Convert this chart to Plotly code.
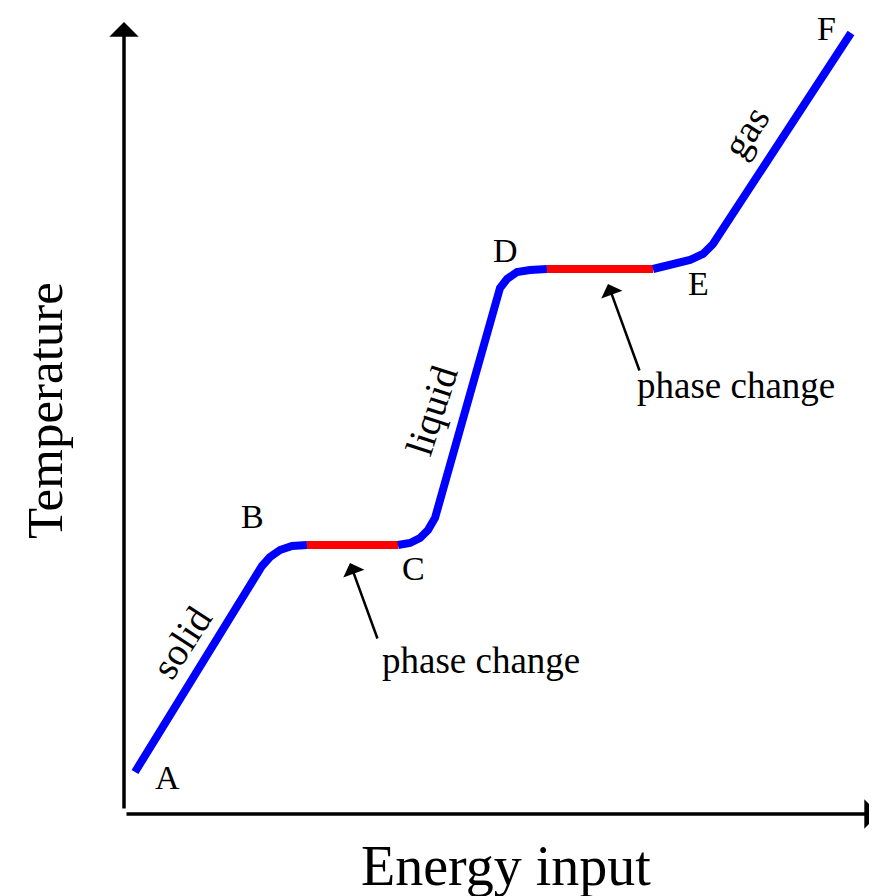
import plotly.graph_objects as go

# Heating curve data (arbitrary energy / temperature units)
solid_E = [10, 137, 145, 155, 167, 182]
solid_T = [40, 246, 255, 262, 266, 267]
melt_E = [182, 273]
melt_T = [267, 267]
liquid_E = [273, 285, 295, 303, 310, 315, 372, 375, 382, 392, 405, 422]
liquid_T = [267, 269, 274, 282, 294, 312, 512, 524, 533, 540, 542, 543]
boil_E = [422, 528]
boil_T = [543, 543]
gas_E = [528, 545, 565, 578, 588, 726]
gas_T = [543, 547, 552, 558, 568, 779]

point_labels = ["A", "B", "C", "D", "E", "F"]
phase_labels = ["solid", "liquid", "gas"]
change_label = "phase change"
x_title = "Energy input"
y_title = "Temperature"

BLUE = "#0000FF"
RED = "#FF0000"
FONT = "Liberation Serif, Times New Roman, serif"

fig = go.Figure()
for xs, ys, col in [(solid_E, solid_T, BLUE), (melt_E, melt_T, RED),
                    (liquid_E, liquid_T, BLUE), (boil_E, boil_T, RED),
                    (gas_E, gas_T, BLUE)]:
    fig.add_trace(go.Scatter(x=xs, y=ys, mode="lines",
                             line=dict(color=col, width=8),
                             hoverinfo="skip", showlegend=False))

ann = []
# axes with arrows
ann.append(dict(x=-1, y=790, ax=-1, ay=2, xref="x", yref="y", axref="x", ayref="y",
                text="", showarrow=True, arrowhead=1, arrowsize=1.4, arrowwidth=3.5,
                arrowcolor="black", standoff=0, startstandoff=0))
ann.append(dict(x=754, y=-2, ax=0, ay=-2, xref="x", yref="y", axref="x", ayref="y",
                text="", showarrow=True, arrowhead=1, arrowsize=1.4, arrowwidth=3.5,
                arrowcolor="black", standoff=0, startstandoff=0))
# phase change pointers
ann.append(dict(x=225, y=249, ax=253, ay=172, xref="x", yref="y", axref="x", ayref="y",
                text="", showarrow=True, arrowhead=1, arrowsize=1.5, arrowwidth=2.5,
                arrowcolor="black", standoff=0, startstandoff=0))
ann.append(dict(x=483, y=528, ax=515, ay=440, xref="x", yref="y", axref="x", ayref="y",
                text="", showarrow=True, arrowhead=1, arrowsize=1.5, arrowwidth=2.5,
                arrowcolor="black", standoff=0, startstandoff=0))

# point letters
letter_pos = [(42, 35), (127, 296), (288, 244), (380, 562), (573, 529)]
for lab, (lx, ly) in zip(point_labels[:5], letter_pos):
    ann.append(dict(x=lx, y=ly, xref="x", yref="y", text=lab, showarrow=False,
                    font=dict(family=FONT, size=34, color="black")))
ann.append(dict(x=701, y=1, xref="x", yref="paper", yanchor="top", text=point_labels[5],
                showarrow=False, font=dict(family=FONT, size=34, color="black")))

# phase labels along the curve
phase_pos = [(56, 170, -57), (307, 402, -72), (621, 680, -57)]
for lab, (lx, ly, ang) in zip(phase_labels, phase_pos):
    ann.append(dict(x=lx, y=ly, xref="x", yref="y", text=lab, showarrow=False,
                    textangle=ang, font=dict(family=FONT, size=39, color="black")))

for lx, ly in [(356, 152), (611, 427)]:
    ann.append(dict(x=lx, y=ly, xref="x", yref="y", text=change_label, showarrow=False,
                    font=dict(family=FONT, size=37, color="black")))

# axis titles
ann.append(dict(x=381, y=-54, xref="x", yref="y", text=x_title, showarrow=False,
                font=dict(family=FONT, size=56, color="black")))
ann.append(dict(x=-80, y=401, xref="x", yref="y", text=y_title, showarrow=False,
                textangle=-90, font=dict(family=FONT, size=51, color="black")))

fig.update_layout(
    width=869, height=888,
    margin=dict(l=0, r=0, t=0, b=0),
    paper_bgcolor="white", plot_bgcolor="white",
    xaxis=dict(range=[-117, 752], visible=False, fixedrange=True),
    yaxis=dict(range=[-84, 804], visible=False, fixedrange=True),
    annotations=ann,
    showlegend=False,
)

fig.write_html("out.html")
